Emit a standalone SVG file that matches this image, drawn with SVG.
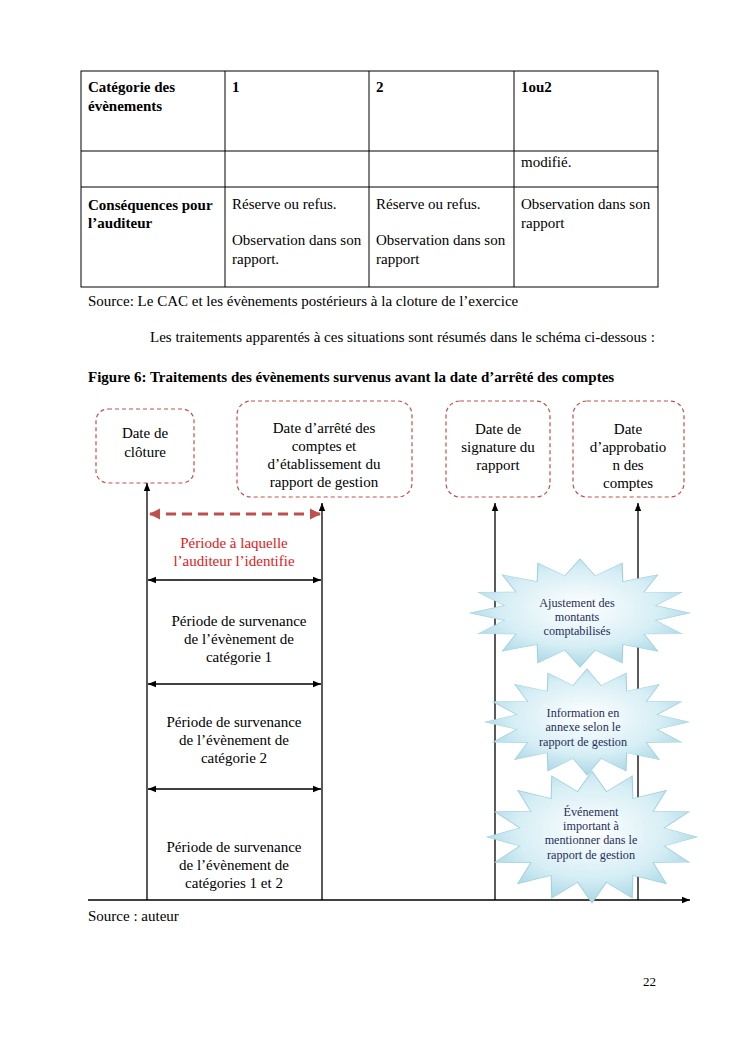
<svg xmlns="http://www.w3.org/2000/svg" width="745" height="1053" viewBox="0 0 745 1053" font-family="'Liberation Serif', 'DejaVu Serif', serif">
<style>
text{font-family:'Liberation Serif','DejaVu Serif',serif;font-size:15px;fill:#000}
.b{font-weight:bold}
.c{text-anchor:middle}
.red{fill:#e02020}
.st{font-size:12.2px;fill:#1f2f5a}
.grid{stroke:#000;stroke-width:1;fill:none}
.box{fill:#fff;stroke:#c0504d;stroke-width:1.2;stroke-dasharray:4 3}
.ln{stroke:#000;stroke-width:1.3;fill:none}
.burst{fill:url(#g);stroke:#9fcfdd;stroke-width:1;vector-effect:non-scaling-stroke}
</style>
<defs>
<radialGradient id="g" cx="0.5" cy="0.45" r="0.6">
<stop offset="0" stop-color="#ffffff"/>
<stop offset="0.6" stop-color="#d6eef5"/>
<stop offset="1" stop-color="#9fd2e2"/>
</radialGradient>
<polygon id="star" points="100,0 68.7,13.7 92.4,38.3 58.2,38.9 70.7,70.7 38.9,58.2 38.3,92.4 13.7,68.7 0,100 -13.7,68.7 -38.3,92.4 -38.9,58.2 -70.7,70.7 -58.2,38.9 -92.4,38.3 -68.7,13.7 -100,0 -68.7,-13.7 -92.4,-38.3 -58.2,-38.9 -70.7,-70.7 -38.9,-58.2 -38.3,-92.4 -13.7,-68.7 0,-100 13.7,-68.7 38.3,-92.4 38.9,-58.2 70.7,-70.7 58.2,-38.9 92.4,-38.3 68.7,-13.7"/>
<marker id="ah" viewBox="0 0 10 10" refX="10" refY="5" markerWidth="8" markerHeight="8" markerUnits="userSpaceOnUse" orient="auto-start-reverse">
<path d="M0,1 L10,5 L0,9 z" fill="#000"/>
</marker>
<marker id="ahr" viewBox="0 0 10 10" refX="9" refY="5" markerWidth="3.5" markerHeight="3.5" orient="auto-start-reverse">
<path d="M0,0 L10,5 L0,10 z" fill="#c0504d"/>
</marker>
</defs>

<g id="table">
<rect class="grid" x="81" y="71" width="577" height="216"/>
<line class="grid" x1="81" y1="151" x2="658" y2="151"/>
<line class="grid" x1="81" y1="187" x2="658" y2="187"/>
<line class="grid" x1="225" y1="71" x2="225" y2="287"/>
<line class="grid" x1="369" y1="71" x2="369" y2="287"/>
<line class="grid" x1="514" y1="71" x2="514" y2="287"/>
<text class="b" x="88" y="92">Catégorie des</text>
<text class="b" x="88" y="111">évènements</text>
<text class="b" x="232" y="92">1</text>
<text class="b" x="376" y="92">2</text>
<text class="b" x="521" y="92">1ou2</text>
<text x="521" y="167">modifié.</text>
<text class="b" x="88" y="210">Conséquences pour</text>
<text class="b" x="88" y="228">l’auditeur</text>
<text x="232" y="209">Réserve ou refus.</text>
<text x="232" y="245">Observation dans son</text>
<text x="232" y="264">rapport.</text>
<text x="376" y="209">Réserve ou refus.</text>
<text x="376" y="245">Observation dans son</text>
<text x="376" y="264">rapport</text>
<text x="521" y="209">Observation dans son</text>
<text x="521" y="228">rapport</text>
</g>

<text x="88" y="306">Source: Le CAC et les évènements postérieurs à la cloture de l’exercice</text>
<text x="150" y="342">Les traitements apparentés à ces situations sont résumés dans le schéma ci-dessous :</text>
<text class="b" x="88" y="382">Figure 6: Traitements des évènements survenus avant la date d’arrêté des comptes</text>

<g id="box-cloture">
<rect class="box" x="96" y="409" width="98" height="74" rx="12"/>
<text class="c" x="145" y="438">Date de</text>
<text class="c" x="145" y="457">clôture</text>
</g>
<g id="box-arrete">
<rect class="box" x="237" y="401" width="175" height="96" rx="14"/>
<text class="c" x="324" y="433">Date d’arrêté des</text>
<text class="c" x="324" y="451">comptes et</text>
<text class="c" x="324" y="469">d’établissement du</text>
<text class="c" x="324" y="487">rapport de gestion</text>
</g>
<g id="box-signature">
<rect class="box" x="446" y="401" width="104" height="96" rx="14"/>
<text class="c" x="498" y="434">Date de</text>
<text class="c" x="498" y="452">signature du</text>
<text class="c" x="498" y="470">rapport</text>
</g>
<g id="box-approbation">
<rect class="box" x="573" y="401" width="111" height="96" rx="14"/>
<text class="c" x="628" y="434">Date</text>
<text class="c" x="628" y="452">d’approbatio</text>
<text class="c" x="628" y="470">n des</text>
<text class="c" x="628" y="488">comptes</text>
</g>

<g id="connectors">
<line class="ln" x1="147" y1="900" x2="147" y2="483" marker-end="url(#ah)"/>
<line class="ln" x1="322" y1="900" x2="322" y2="503" marker-end="url(#ah)"/>
<line class="ln" x1="495" y1="900" x2="495" y2="503" marker-end="url(#ah)"/>
<line class="ln" x1="638" y1="900" x2="638" y2="503" marker-end="url(#ah)"/>
<line class="ln" x1="88" y1="900" x2="690" y2="900" marker-end="url(#ah)"/>
<line x1="150" y1="514" x2="320" y2="514" stroke="#c0504d" stroke-width="3.2" stroke-dasharray="10 6" marker-start="url(#ahr)" marker-end="url(#ahr)"/>
<line class="ln" x1="148" y1="580" x2="321" y2="580" marker-start="url(#ah)" marker-end="url(#ah)"/>
<line class="ln" x1="148" y1="684" x2="321" y2="684" marker-start="url(#ah)" marker-end="url(#ah)"/>
<line class="ln" x1="148" y1="789" x2="321" y2="789" marker-start="url(#ah)" marker-end="url(#ah)"/>
</g>

<g id="periode-auditeur">
<text class="c red" x="234" y="548">Période à laquelle</text>
<text class="c red" x="234" y="566">l’auditeur l’identifie</text>
</g>
<g id="periode-cat1">
<text class="c" x="239" y="626">Période de survenance</text>
<text class="c" x="239" y="644">de l’évènement de</text>
<text class="c" x="239" y="662">catégorie 1</text>
</g>
<g id="periode-cat2">
<text class="c" x="234" y="727">Période de survenance</text>
<text class="c" x="234" y="745">de l’évènement de</text>
<text class="c" x="234" y="763">catégorie 2</text>
</g>
<g id="periode-cat12">
<text class="c" x="234" y="852">Période de survenance</text>
<text class="c" x="234" y="870">de l’évènement de</text>
<text class="c" x="234" y="888">catégories 1 et 2</text>
</g>

<g id="burst-ajustement">
<use href="#star" class="burst" transform="translate(580,613) scale(1.1,0.54)"/>
<text class="c st" x="577" y="607">Ajustement des</text>
<text class="c st" x="577" y="621">montants</text>
<text class="c st" x="577" y="635">comptabilisés</text>
</g>
<g id="burst-information">
<use href="#star" class="burst" transform="translate(587,722) scale(1.02,0.53)"/>
<text class="c st" x="583" y="717">Information en</text>
<text class="c st" x="583" y="731">annexe selon le</text>
<text class="c st" x="583" y="746">rapport de gestion</text>
</g>
<g id="burst-evenement">
<use href="#star" class="burst" transform="translate(592,837) scale(1.05,0.66)"/>
<text class="c st" x="591" y="816">Événement</text>
<text class="c st" x="591" y="830">important à</text>
<text class="c st" x="591" y="844">mentionner dans le</text>
<text class="c st" x="591" y="859">rapport de gestion</text>
</g>

<text x="88" y="921">Source : auteur</text>
<text x="643" y="986" style="font-size:13px">22</text>
</svg>
